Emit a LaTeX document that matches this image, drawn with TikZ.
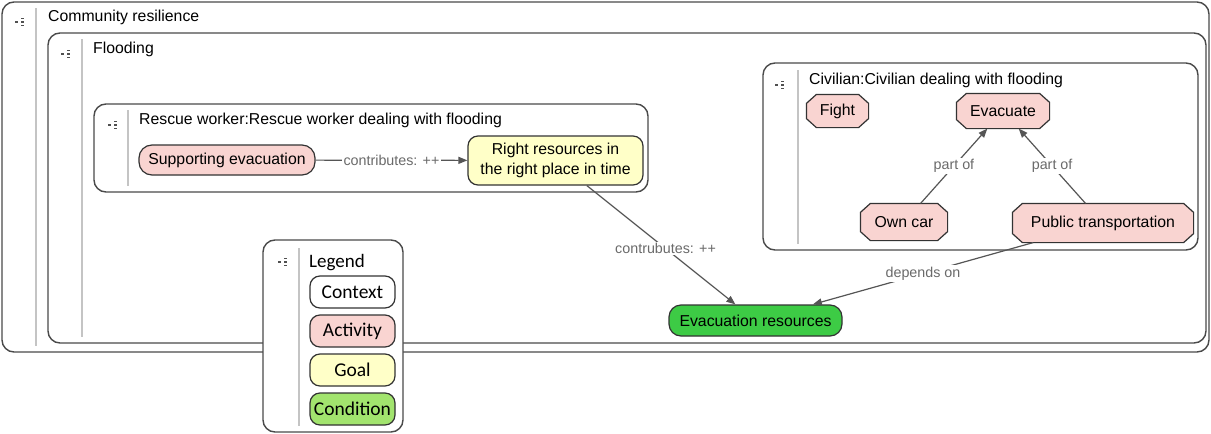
\documentclass[tikz,border=0pt]{standalone}
\usepackage{fontspec}
\setmainfont{Liberation Sans}
\newfontfamily\legendfont{Carlito}
\usetikzlibrary{arrows.meta,backgrounds}

\definecolor{framecol}{HTML}{4A4A4A}
\definecolor{nodeborder}{HTML}{333333}
\definecolor{dividercol}{HTML}{C4C4C4}
\definecolor{activityfill}{HTML}{F9D4D1}
\definecolor{goalfill}{HTML}{FFFFC8}
\definecolor{condfill}{HTML}{3DCB45}
\definecolor{condlegend}{HTML}{A2E46E}
\definecolor{linkcol}{HTML}{555555}
\definecolor{labelcol}{HTML}{6A6A6A}
\definecolor{iconcol}{HTML}{505050}

\tikzset{
  container/.style={draw=framecol, line width=1.4pt, rounded corners=12pt,
    inner sep=0pt},
  divider/.style={draw=dividercol, line width=1.1pt},
  title/.style={anchor=base west, inner sep=0pt, font=\fontsize{15.8}{18}\selectfont},
  basenode/.style={draw=nodeborder, line width=1.2pt, inner sep=0pt, align=center,
    font=\fontsize{15.8}{20}\selectfont},
  activity/.style={basenode, fill=activityfill, rounded corners=13pt},
  goal/.style={basenode, fill=goalfill, rounded corners=10pt},
  condition/.style={basenode, fill=condfill, rounded corners=12pt},
  octa/.style={basenode, draw=none},
  octframe/.style={draw=nodeborder, line width=1.2pt, fill=activityfill, line join=round},
  link/.style={draw=linkcol, line width=1.2pt,
    -{Triangle[length=9pt,width=7pt]}},
  elabel/.style={fill=white, text=labelcol, inner sep=1.5pt,
    font=\fontsize{14.3}{16}\selectfont},
  legenditem/.style={draw=nodeborder, line width=1.2pt, rounded corners=10pt,
    minimum width=85pt, minimum height=32pt, inner sep=0pt,
    font=\legendfont\fontsize{19.5}{22}\selectfont},
  menuicon/.pic={
    \fill[iconcol] (-6,-1.4) rectangle (-3.2,1.4);
    \draw[iconcol, line width=1.3pt] (0,-3.6) -- (3.2,-3.6) (0,0) -- (3.2,0) (0,3.6) -- (3.2,3.6);
  }
}

% octagonal outline around a rectangular node (chamfer 10 x 9)
\newcommand\octagonframe[1]{%
  \path[octframe] ([xshift=10pt]#1.north west) -- ([xshift=-10pt]#1.north east)
    -- ([yshift=-9pt]#1.north east) -- ([yshift=9pt]#1.south east)
    -- ([xshift=-10pt]#1.south east) -- ([xshift=10pt]#1.south west)
    -- ([yshift=9pt]#1.south west) -- ([yshift=-9pt]#1.north west) -- cycle;}

\begin{document}
\begin{tikzpicture}[x=1pt,y=-1pt]
\useasboundingbox (0,0) rectangle (1211,434);

% nested context frames
\node[container, minimum width=1207pt, minimum height=350pt] (community) at (605.5,177) {};
\draw[divider] (36,8) -- (36,346);
\pic at (21,22) {menuicon};
\node[title] (communityTitle) at (48,21) {Community resilience};

\node[container, minimum width=1158pt, minimum height=310pt] (flooding) at (627,188) {};
\draw[divider] (82,39) -- (82,337);
\pic at (67,54) {menuicon};
\node[title] (floodingTitle) at (93,53) {Flooding};

\node[container, minimum width=554pt, minimum height=88pt] (rescue) at (371,148) {};
\draw[divider] (128,110) -- (128,186);
\pic at (114,125) {menuicon};
\node[title] (rescueTitle) at (139,124) {Rescue worker:Rescue worker dealing with flooding};

\node[container, minimum width=435pt, minimum height=187pt] (civilian) at (980.5,156.5) {};
\draw[divider] (798,70) -- (798,244);
\pic at (781,85) {menuicon};
\node[title] (civilianTitle) at (809,84) {Civilian:Civilian dealing with flooding};

% activities, goals and conditions
\node[activity, minimum width=176pt, minimum height=30pt] (support) at (227,160) {Supporting evacuation};
\node[goal, minimum width=175pt, minimum height=49pt] (rightres) at (555.5,160.5)
  {Right resources in\\the right place in time};
\node[condition, minimum width=173pt, minimum height=31pt] (evacres) at (755.5,320.5) {Evacuation resources};

\node[octa, minimum width=61pt, minimum height=32pt] (fight) at (837.5,111) {Fight};
\node[octa, minimum width=92pt, minimum height=34pt] (evacuate) at (1003,111) {Evacuate};
\node[octa, minimum width=86pt, minimum height=36pt] (owncar) at (904,222) {Own car};
\node[octa, minimum width=180pt, minimum height=38pt] (pubtrans) at (1103,223) {Public transportation};

\begin{scope}[on background layer]
  \fill[white] (0,0) rectangle (1211,434);
  \octagonframe{fight}
  \octagonframe{evacuate}
  \octagonframe{owncar}
  \octagonframe{pubtrans}
\end{scope}

% relations
\draw[link] (support) -- node[elabel] {contributes: ++} (rightres);
\draw[link] (rightres) -- node[elabel, pos=0.53] {contrubutes: ++} (evacres);
\draw[link] (owncar) -- node[elabel] {part of} (evacuate);
\draw[link] (pubtrans) -- node[elabel] {part of} (evacuate);
\draw[link] (pubtrans) -- node[elabel] {depends on} (evacres);

% legend
\node[container, fill=white, minimum width=140pt, minimum height=192pt] (legend) at (333,336) {};
\draw[divider] (299,248) -- (299,426);
\pic at (284,262) {menuicon};
\node[title, font=\legendfont\fontsize{19}{22}\selectfont] (legendTitle) at (309,267) {Legend};
\node[legenditem, fill=white] (lgContext) at (352.5,292) {Context};
\node[legenditem, fill=activityfill] (lgActivity) at (352.5,331) {Activity};
\node[legenditem, fill=goalfill] (lgGoal) at (352.5,370) {Goal};
\node[legenditem, fill=condlegend] (lgCondition) at (352.5,409) {Condition};
\end{tikzpicture}
\end{document}
